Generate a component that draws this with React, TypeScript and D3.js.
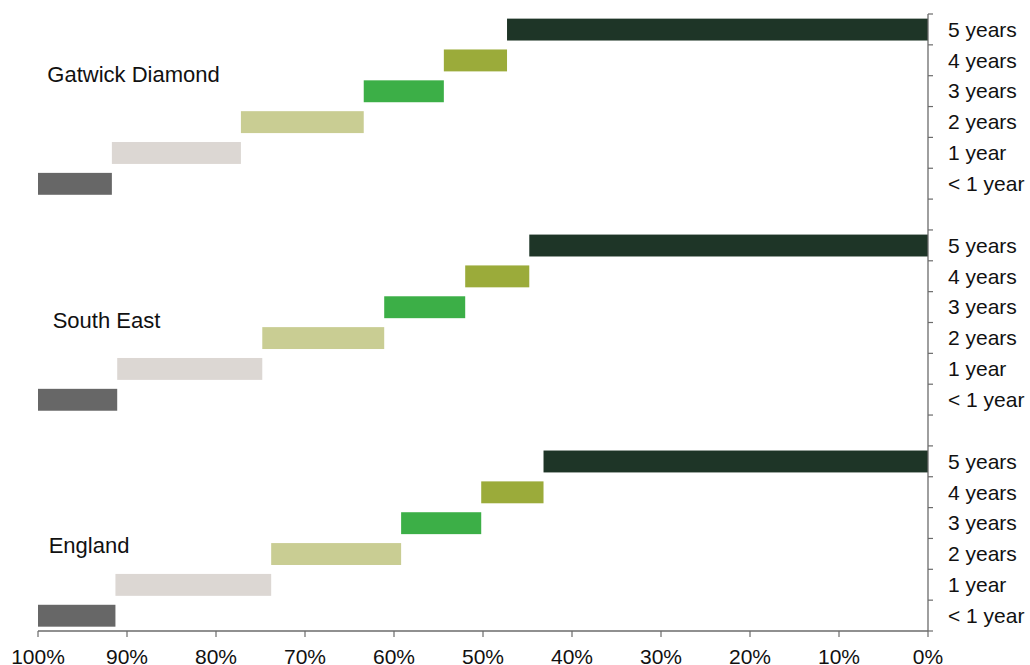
import React from "react";
import * as d3 from "d3";

const groups = ["Gatwick Diamond", "South East", "England"];
const categories = ["< 1 year", "1 year", "2 years", "3 years", "4 years", "5 years"];
const gatwickShares = [8.3, 14.5, 13.8, 9.0, 7.1, 47.3];
const southEastShares = [8.9, 16.3, 13.7, 9.1, 7.2, 44.8];
const englandShares = [8.7, 17.5, 14.6, 9.0, 7.0, 43.2];
const xTicks = [100, 90, 80, 70, 60, 50, 40, 30, 20, 10, 0];
const categoryColors = ["#676767", "#dcd7d3", "#c9cd93", "#3caf47", "#9bab3a", "#1e3527"];
// label anchor: x in % units, y offset in band units from group's top row
const groupLabelX = [98.95, 98.35, 98.8];
const groupLabelRowOffset = [2.21, 3.19, 3.48];

const W = 1030;
const H = 665;
const M = { left: 38, right: 102, top: 14, bottom: 34 };

export default function App() {
  const allShares = [gatwickShares, southEastShares, englandShares];
  const rows: string[] = [];
  groups.forEach((g, gi) => {
    [...categories].reverse().forEach((c) => rows.push(`${g}|${c}`));
    if (gi < groups.length - 1) rows.push(`gap${gi}`);
  });

  const x = d3.scaleLinear().domain([100, 0]).range([M.left, W - M.right]);
  const y = d3.scaleBand<string>().domain(rows).range([M.top, H - M.bottom]).padding(0);
  const bw = y.bandwidth();

  const bars: { key: string; x0: number; x1: number; color: string }[] = [];
  groups.forEach((g, gi) => {
    let cum = 100;
    allShares[gi].forEach((v, ci) => {
      const start = cum;
      const end = cum - v;
      bars.push({ key: `${g}|${categories[ci]}`, x0: start, x1: end, color: categoryColors[ci] });
      cum = end;
    });
  });

  const boundaries = rows.map((r) => y(r) as number).concat([H - M.bottom]);
  const axisX = x(0);
  const axisY = H - M.bottom;
  const font = "Arial, 'Liberation Sans', sans-serif";
  const axisColor = "#6b6b6b";

  return (
    <div style={{ position: "fixed", left: 0, top: 0 }}>
      <svg width={W} height={H} style={{ display: "block", background: "#fff" }}>
        {bars.map((b) => (
          <rect
            key={b.key}
            x={x(b.x0)}
            y={(y(b.key) as number) + bw * 0.15}
            width={x(b.x1) - x(b.x0)}
            height={bw * 0.71}
            fill={b.color}
          />
        ))}
        {/* right axis */}
        <line x1={axisX} x2={axisX} y1={M.top} y2={axisY} stroke={axisColor} strokeWidth={1.3} />
        {boundaries.map((by, i) => (
          <line key={"yt" + i} x1={axisX} x2={axisX + 5} y1={by} y2={by} stroke={axisColor} strokeWidth={1.2} />
        ))}
        {rows.map((r) =>
          r.startsWith("gap") ? null : (
            <text
              key={"yl" + r}
              x={axisX + 20}
              y={(y(r) as number) + bw / 2}
              dy="0.35em"
              fontFamily={font}
              fontSize={21}
              fill="#111"
            >
              {r.split("|")[1]}
            </text>
          )
        )}
        {/* bottom axis */}
        <line x1={x(100)} x2={axisX} y1={axisY} y2={axisY} stroke={axisColor} strokeWidth={1.3} />
        {xTicks.map((t) => (
          <g key={"xt" + t}>
            <line x1={x(t)} x2={x(t)} y1={axisY} y2={axisY + 6} stroke={axisColor} strokeWidth={1.2} />
            <text x={x(t)} y={H - 1} textAnchor="middle" fontFamily={font} fontSize={21} fill="#111">
              {t}%
            </text>
          </g>
        ))}
        {/* group labels */}
        {groups.map((g, gi) => {
          const topRow = `${g}|${categories[categories.length - 1]}`;
          return (
            <text
              key={"gl" + g}
              x={x(groupLabelX[gi])}
              y={(y(topRow) as number) + bw * groupLabelRowOffset[gi]}
              fontFamily={font}
              fontSize={22}
              fill="#111"
            >
              {g}
            </text>
          );
        })}
      </svg>
    </div>
  );
}
